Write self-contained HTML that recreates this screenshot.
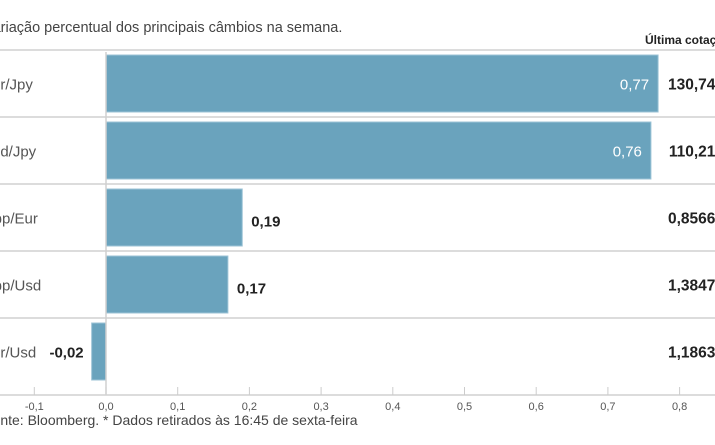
<!DOCTYPE html>
<html><head><meta charset="utf-8"><style>
html,body{margin:0;padding:0;background:#fff;width:715px;height:445px;overflow:hidden}
svg{display:block;font-family:"Liberation Sans",sans-serif}
</style></head><body>
<svg id="chart" width="715" height="445">
<text x="-16" y="32" font-size="14.5" fill="#444">Variação percentual dos principais câmbios na semana.</text>
<text x="645" y="44" font-size="12" font-weight="bold" fill="#222">Última cotação*</text>
<text x="-16" y="425" font-size="14" fill="#444">Fonte: Bloomberg.  * Dados retirados às 16:45 de sexta-feira</text>
<g id="grid"></g><g id="bars"></g><g id="axis"></g>
</svg>
<script>
const categories=["Eur/Jpy","Usd/Jpy","Gbp/Eur","Gbp/Usd","Eur/Usd"];
const values=[0.77,0.76,0.19,0.17,-0.02];
const valueLabels=["0,77","0,76","0,19","0,17","-0,02"];
const lastQuotes=["130,745","110,215","0,85669","1,38471","1,18632"];
const ticks=[-0.1,0,0.1,0.2,0.3,0.4,0.5,0.6,0.7,0.8];
const tickLabels=["-0,1","0,0","0,1","0,2","0,3","0,4","0,5","0,6","0,7","0,8"];
const NS="http://www.w3.org/2000/svg";
const x0=106, scale=717;
function xs(v){return x0+v*scale;}
const rowTop=50,rowH=67;
function ys(i){return rowTop+i*rowH;}
function mk(tag,attrs,parent){const e=document.createElementNS(NS,tag);for(const k in attrs)e.setAttribute(k,attrs[k]);parent.appendChild(e);return e;}
const grid=document.getElementById('grid'),bars=document.getElementById('bars'),axis=document.getElementById('axis');
for(let i=0;i<=categories.length-1;i++){
  const l=mk('line',{x1:0,x2:715,y1:ys(i),y2:ys(i),stroke:'#dcdcdc','stroke-width':2},grid);
  
  
}
categories.forEach((c,i)=>{
  const top=ys(i)+5,h=rowH-10,cy=ys(i)+rowH/2+6;
  const v=values[i];
  const xa=Math.min(xs(0),xs(v)),w=Math.abs(xs(v)-xs(0));
  const r=mk('rect',{x:xa,y:top,width:w,height:h,fill:'#6aa3bd',stroke:'#9cc3d6','stroke-width':1},bars);
  
  
  const lab=mk('text',{x:-18,y:cy,'font-size':15,fill:'#555'},bars);lab.textContent=c;
  
  
  let vl;
  if(v>0.4){vl=mk('text',{x:xs(v)-9,y:cy,'font-size':15,fill:'#fff','text-anchor':'end'},bars);}
  else if(v>=0){vl=mk('text',{x:xs(v)+9,y:cy+3,'font-size':15,'font-weight':'bold',fill:'#222'},bars);}
  else{vl=mk('text',{x:xs(v)-8,y:cy,'font-size':15,'font-weight':'bold',fill:'#222','text-anchor':'end'},bars);}
  vl.textContent=valueLabels[i];
  
  
  const q=mk('text',{x:724,y:cy,'font-size':15.5,'font-weight':'bold',fill:'#222','text-anchor':'end'},bars);
  q.textContent=lastQuotes[i];
  
  
});
const va=mk('line',{x1:xs(0),x2:xs(0),y1:52,y2:395,stroke:'#d0d0d0','stroke-width':1.5},axis);


const ha=mk('line',{x1:0,x2:715,y1:395,y2:395,stroke:'#dcdcdc','stroke-width':2},axis);


ticks.forEach((t,i)=>{
  const tk=mk('line',{x1:xs(t),x2:xs(t),y1:387,y2:395,stroke:'#ccc','stroke-width':1},axis);
  
  
  const tl=mk('text',{x:xs(t),y:410,'font-size':11,fill:'#555','text-anchor':'middle'},axis);
  tl.textContent=tickLabels[i];
  
  
});
</script>
</body></html>
